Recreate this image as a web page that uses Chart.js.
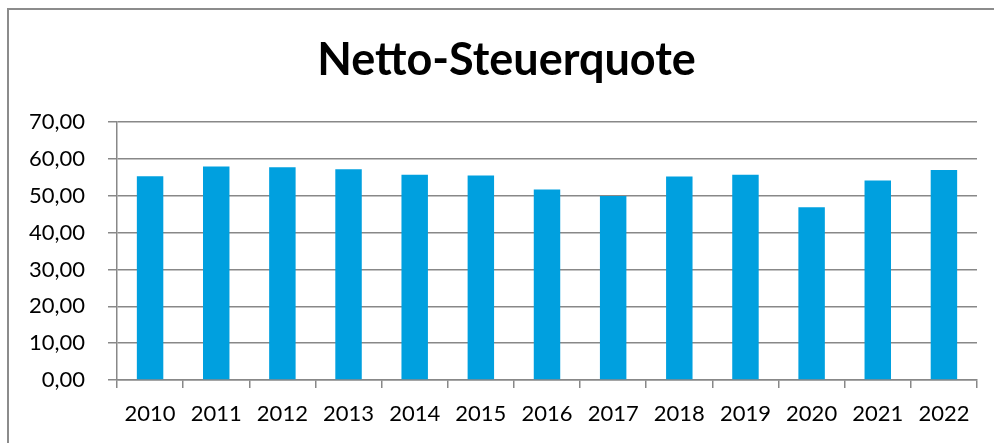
<!DOCTYPE html>
<html>
<head>
<meta charset="utf-8">
<script src="https://cdn.jsdelivr.net/npm/chart.js@4"></script>
<style>
  html, body { margin: 0; padding: 0; background: #fff; overflow: hidden; }
  #wrap { position: relative; width: 994px; height: 443px; }
  #frame {
    position: absolute; left: 7px; top: 8px; width: 1100px; height: 500px;
    border-left: 2px solid #8c8c8c; border-top: 2px solid #8c8c8c;
  }
  canvas { position: absolute; left: 0; top: 0; }
</style>
</head>
<body>
<div id="wrap">
  <div id="frame"></div>
  <canvas id="quoteChart" width="994" height="443"></canvas>
</div>
<script>
const years = ['2010', '2011', '2012', '2013', '2014', '2015', '2016',
               '2017', '2018', '2019', '2020', '2021', '2022'];
const quote = [55.3, 57.9, 57.7, 57.2, 55.7, 55.5, 51.7,
               49.9, 55.2, 55.7, 46.9, 54.1, 57.0];
const yMin = 0;
const yMax = 70;
const yStep = 10;

const gridColor = '#888888';
const fontFam = 'Lato, "Open Sans", sans-serif';

const ctx = document.getElementById('quoteChart').getContext('2d');

new Chart(ctx, {
  type: 'bar',
  data: {
    labels: years,
    datasets: [{
      label: 'Netto-Steuerquote',
      data: quote,
      backgroundColor: '#00A0DF',
      categoryPercentage: 1,
      barPercentage: 0.4
    }]
  },
  options: {
    responsive: false,
    animation: false,
    devicePixelRatio: 1,
    // left padding shifts the title centre to match the original
    layout: { padding: { top: 0, right: 0, bottom: 0, left: 19 } },
    plugins: {
      legend: { display: false },
      tooltip: { enabled: false },
      title: {
        display: true,
        text: 'Netto-Steuerquote',
        color: '#000',
        font: { family: fontFam, size: 45, weight: 'bold', lineHeight: 1.2 },
        padding: { top: 33, bottom: 35 }
      }
    },
    scales: {
      x: {
        afterFit: s => { s.height = 63; },
        grid: {
          display: true,
          drawOnChartArea: false,
          offset: true,
          tickLength: 8,
          color: gridColor,
          lineWidth: 1.5
        },
        border: { color: gridColor, width: 1.5 },
        ticks: {
          color: '#000',
          padding: 13,
          maxRotation: 0,
          font: { family: fontFam, size: 22 }
        }
      },
      y: {
        min: yMin,
        max: yMax,
        afterFit: s => { s.width = 98; },
        grid: {
          color: gridColor,
          lineWidth: 1.5,
          tickLength: 9
        },
        border: { color: gridColor, width: 1.5 },
        ticks: {
          stepSize: yStep,
          color: '#000',
          padding: 23,
          font: { family: fontFam, size: 22 },
          callback: v => v.toFixed(2).replace('.', ',')
        }
      },
      // empty spacer on the right
      yRight: {
        position: 'right',
        afterFit: s => { s.width = 17; },
        grid: { display: false },
        border: { display: false },
        ticks: { display: false }
      }
    }
  }
});
</script>
</body>
</html>
